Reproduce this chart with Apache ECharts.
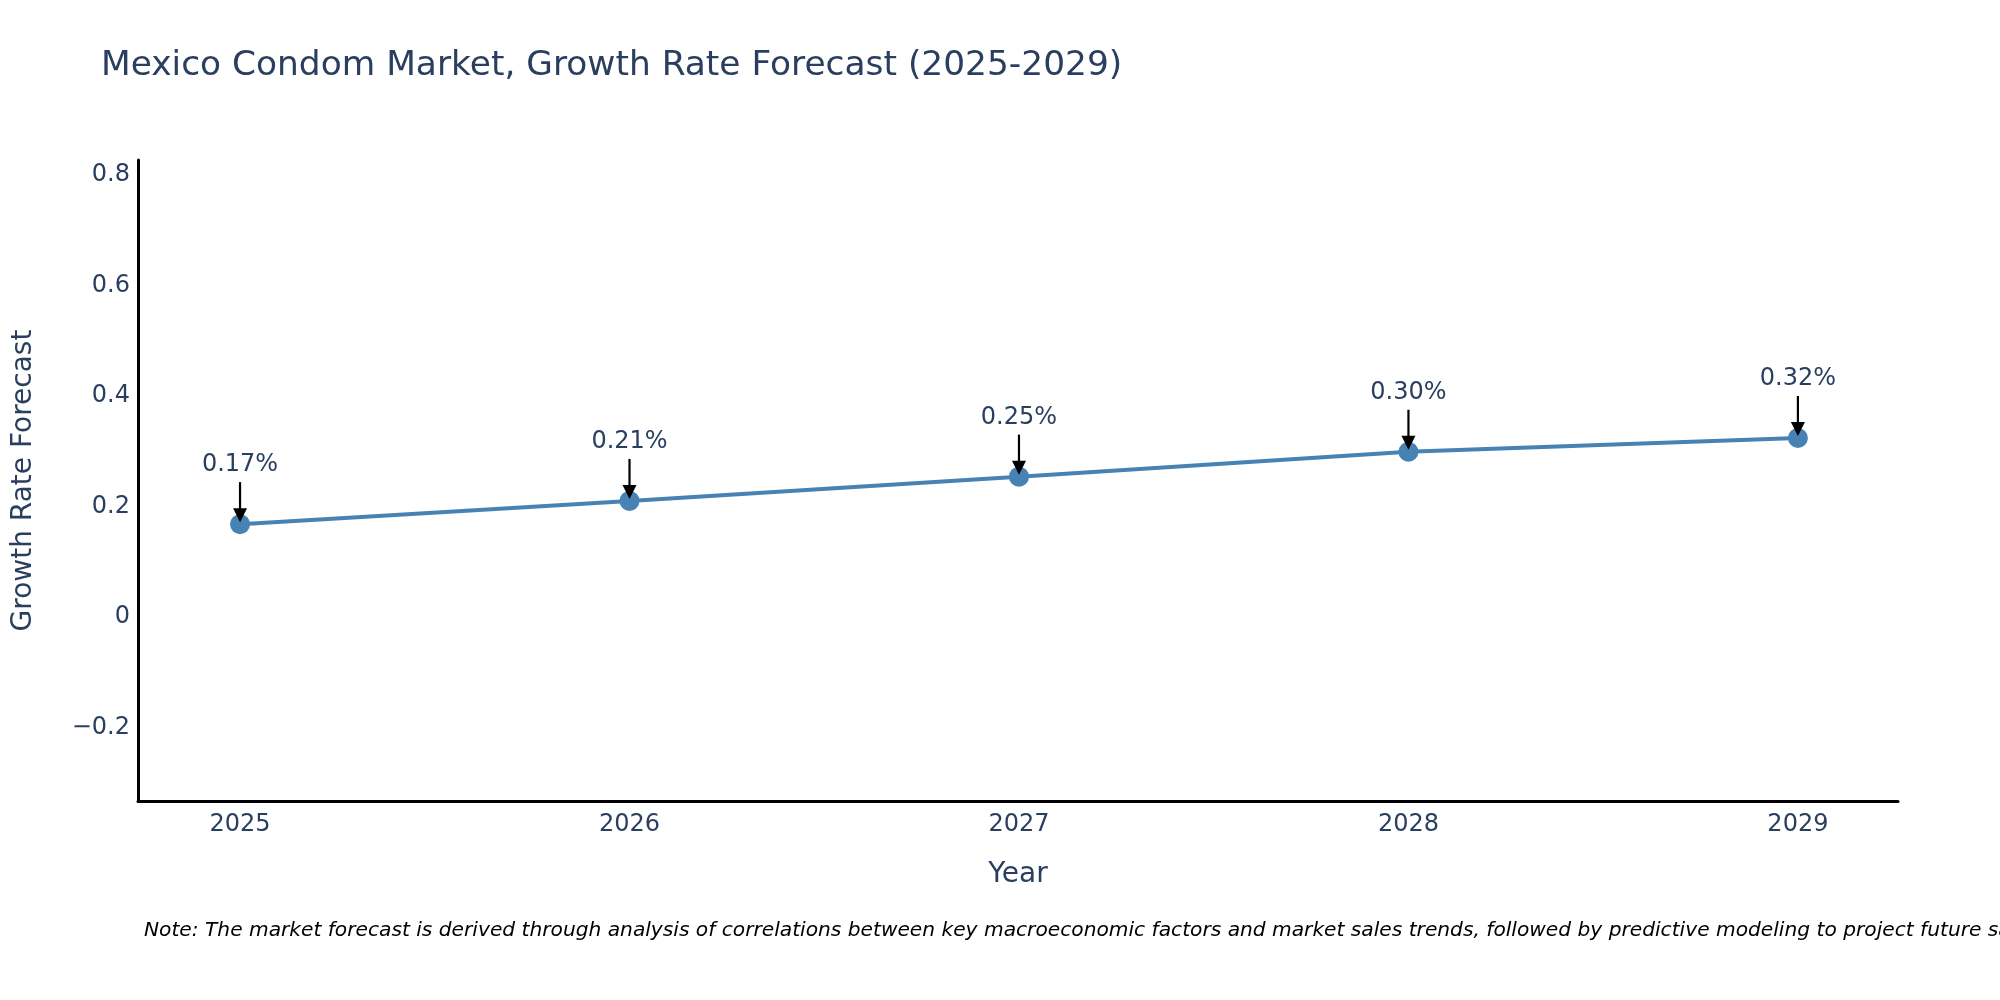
<html>

<head>
    <meta charset="utf-8" />
    <script src="https://cdn.jsdelivr.net/npm/echarts@6/dist/echarts.min.js"></script>
    <title>Mexico Condom Market, Growth Rate Forecast</title>
    <style>
        html, body { margin: 0; padding: 0; background: #fff; }
        #chart { width: 2000px; height: 1000px; }
    </style>
</head>

<body>
    <div id="chart"></div>

    <script type="text/javascript">
        // data
        var years = [2025, 2026, 2027, 2028, 2029];
        var growthRate = [0.168, 0.210, 0.254, 0.299, 0.324];
        var yTicks = [-0.2, 0, 0.2, 0.4, 0.6, 0.8];

        var points = years.map(function (y, i) { return [y, growthRate[i]]; });
        var fontName = 'DejaVu Sans';
        var textColor = '#2a3f5f';
        var lineColor = '#4682b4';

        var chart = echarts.init(document.getElementById('chart'));
        var option = {
            textStyle: { fontFamily: fontName },
            animation: false,
            title: {
                text: 'Mexico Condom Market, Growth Rate Forecast (2025-2029)',
                left: 101,
                top: 49,
                padding: 0,
                textStyle: { fontSize: 34.4, fontWeight: 'normal', color: textColor, fontFamily: fontName }
            },
            grid: { left: 138, right: 102, top: 160, bottom: 199, containLabel: false },
            xAxis: {
                type: 'value',
                min: 2024.738,
                max: 2029.257,
                name: 'Year',
                nameLocation: 'middle',
                nameGap: 60,
                nameTextStyle: { fontSize: 28, color: textColor },
                axisLine: { show: true, onZero: false, lineStyle: { color: '#000', width: 3 } },
                axisTick: { show: false },
                splitLine: { show: false },
                axisLabel: {
                    customValues: years,
                    margin: 12,
                    fontSize: 24,
                    color: textColor,
                    formatter: function (v) { return String(v); }
                }
            },
            yAxis: {
                type: 'value',
                min: -0.333,
                max: 0.827,
                name: 'Growth Rate Forecast',
                nameLocation: 'middle',
                nameGap: 100,
                nameTextStyle: { fontSize: 28, color: textColor },
                axisLine: { show: true, onZero: false, lineStyle: { color: '#000', width: 3 } },
                axisTick: { show: false },
                splitLine: { show: false },
                axisLabel: {
                    customValues: yTicks,
                    margin: 8,
                    fontSize: 24,
                    color: textColor,
                    formatter: function (v) {
                        var r = Math.round(v * 10) / 10;
                        return r < 0 ? '\u2212' + Math.abs(r) : String(r);
                    }
                }
            },
            series: [{
                type: 'line',
                data: points,
                symbol: 'circle',
                symbolSize: 20,
                lineStyle: { color: lineColor, width: 4 },
                itemStyle: { color: lineColor },
                z: 2
            }, {
                type: 'custom',
                data: points,
                z: 5,
                renderItem: function (params, api) {
                    var p = api.coord([api.value(0), api.value(1)]);
                    var label = api.value(1).toFixed(2) + '%';
                    return {
                        type: 'group',
                        children: [{
                            type: 'line',
                            shape: { x1: p[0], y1: p[1] - 42, x2: p[0], y2: p[1] - 14 },
                            style: { stroke: '#000', lineWidth: 2.2 }
                        }, {
                            type: 'polygon',
                            shape: { points: [[p[0] - 7, p[1] - 16], [p[0] + 7, p[1] - 16], [p[0], p[1] - 2]] },
                            style: { fill: '#000' }
                        }, {
                            type: 'text',
                            x: p[0],
                            y: p[1] - 59,
                            style: {
                                text: label,
                                align: 'center',
                                verticalAlign: 'middle',
                                font: '24px "' + fontName + '"',
                                fill: textColor
                            }
                        }]
                    };
                }
            }],
            graphic: [{
                type: 'text',
                left: 144,
                top: 921,
                style: {
                    text: 'Note: The market forecast is derived through analysis of correlations between key macroeconomic factors and market sales trends, followed by predictive modeling to project future sales.',
                    font: 'italic 20.2px "' + fontName + '"',
                    fill: '#000'
                }
            }]
        };
        chart.setOption(option);
    </script>

</body>

</html>
